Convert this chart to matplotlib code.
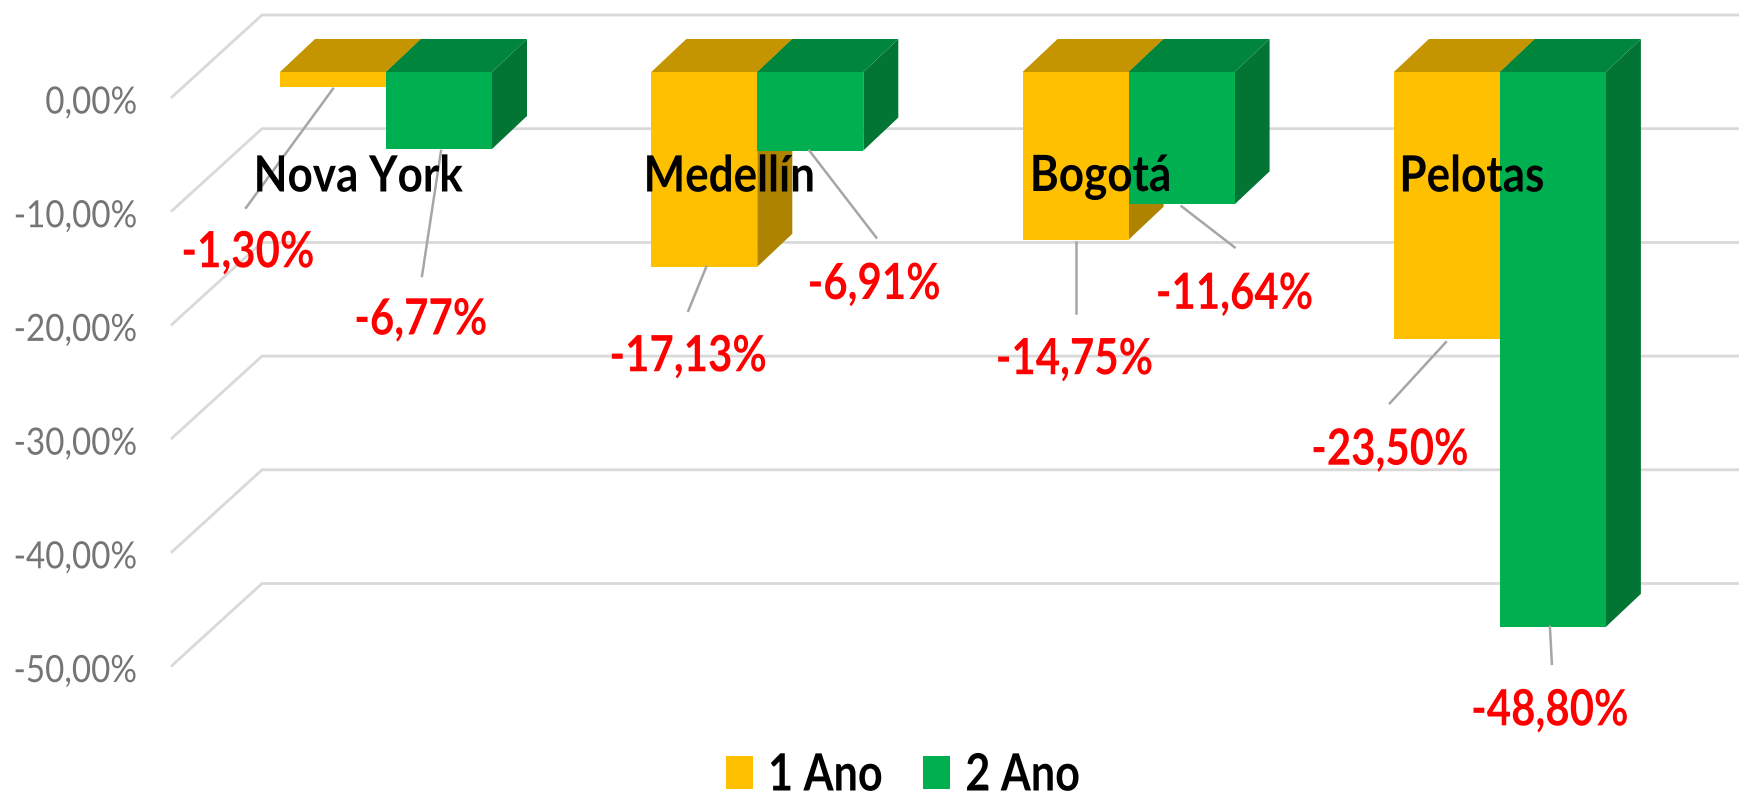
import matplotlib
matplotlib.use('Agg')
import matplotlib.pyplot as plt
from matplotlib.patches import Patch, Polygon
from matplotlib.patheffects import AbstractPathEffect
from matplotlib.transforms import Affine2D

plt.rcParams['font.family'] = ['Lato', 'DejaVu Sans']

cities = ['Nova York', 'Medellín', 'Bogotá', 'Pelotas']
ano_1 = [-1.30, -17.13, -14.75, -23.50]
ano_2 = [-6.77, -6.91, -11.64, -48.80]
grid_values = [0, -10, -20, -30, -40, -50]
tick_labels = ['0,00%', '-10,00%', '-20,00%', '-30,00%', '-40,00%', '-50,00%']

YELLOW = ('#FFC000', '#C49500', '#AD8300')
GREEN = ('#00B050', '#00853C', '#027434')

# pixel scale of the axes
PX_X = 371.3
PX_Y = 11.37


class Squeeze(AbstractPathEffect):
    """Narrower glyphs, since no Calibri-like condensed font is installed."""

    def __init__(self, sx, anchor=0.5, dy=0):
        super().__init__()
        self.sx = sx
        self.anchor = anchor
        self.dy = dy

    def draw_path(self, renderer, gc, tpath, affine, rgbFace=None):
        w = tpath.get_extents().x1
        squeeze = Affine2D().scale(self.sx, 1).translate(w * (1 - self.sx) * self.anchor, 0)
        renderer.draw_path(gc, tpath, squeeze + affine + Affine2D().translate(0, self.dy), rgbFace)


fig = plt.figure(figsize=(17.4, 7.97), dpi=100)
ax = fig.add_axes([172 / 1740, 0, 1568 / 1740, 1])
ax.set_xlim(-214 / PX_X, 1354 / PX_X)
ax.set_ylim(-700 / PX_Y, 97 / PX_Y)
for s in ax.spines.values():
    s.set_visible(False)
ax.patch.set_alpha(0)


def px(dx, dy):
    # pixel offset to data units, y down as in the image
    return dx / PX_X, -dy / PX_Y


# back wall and floor lines
back_x, back_y = px(90, -82)
for v in grid_values:
    x0 = ax.get_xlim()[0]
    ax.plot([x0, x0 + back_x, ax.get_xlim()[1]], [v, v + back_y, v + back_y],
            color='#D9D9D9', lw=2.0, zorder=1, clip_on=False, solid_joinstyle='miter')

ax.set_xticks([])
ax.set_yticks(grid_values, labels=tick_labels)
ax.tick_params(axis='y', length=0, pad=25, labelsize=27, labelcolor='#757575')
for t in ax.get_yticklabels():
    t.set_path_effects([Squeeze(0.885, anchor=1, dy=-2)])

bar_w = 106 / PX_X
front_y = px(0, -25)[1]
depth_dx, depth_dy = px(35, -33)


def bar_3d(left, val, cols, z):
    right = left + bar_w
    top = front_y
    bot = val + front_y
    ax.add_patch(Polygon([(right, top), (right + depth_dx, top + depth_dy),
                          (right + depth_dx, bot + depth_dy), (right, bot)],
                         fc=cols[2], ec='none', zorder=z))
    ax.add_patch(Polygon([(left, top), (left + depth_dx, top + depth_dy),
                          (right + depth_dx, top + depth_dy), (right, top)],
                         fc=cols[1], ec='none', zorder=z))
    ax.bar(left, val, bottom=top, width=bar_w, align='edge', color=cols[0], zorder=z)
    return left + bar_w / 2, bot


# leader start, leader end and label centre in pixels from the bar's bottom centre
leaders_1 = [((0, 2), (-87, 121), (-85, 166)), ((2, 0), (-16, 44), (-16, 90)),
             ((0, 2), (0, 73), (-1, 120)), ((-1, 3), (-57, 64), (-57, 111))]
leaders_2 = [((2, 2), (-17, 127), (-18, 171)), ((-1, 0), (66, 87), (64, 134)),
             ((0, 2), (53, 43), (53, 90)), ((-3, 0), (-1, 37), (-3, 84))]


def fmt(v):
    return f'{v:.2f}%'.replace('.', ',')


for i, city in enumerate(cities):
    for j, (vals, cols, lead) in enumerate(((ano_1, YELLOW, leaders_1), (ano_2, GREEN, leaders_2))):
        cx, by = bar_3d(i - bar_w + bar_w * j, vals[i], cols, 3 + j + i * 3)
        a, b, c = lead[i]
        ax.plot([cx + px(*a)[0], cx + px(*b)[0]], [by + px(*a)[1], by + px(*b)[1]],
                color='#A6A6A6', lw=1.8, zorder=30)
        ax.text(cx + px(*c)[0], by + px(*c)[1], fmt(vals[i]), color='#FF0000', fontsize=36,
                fontweight='bold', ha='center', va='center', zorder=32,
                path_effects=[Squeeze(0.84)])
    ax.text(i + px(-28, 0)[0], px(0, 80)[1], city, color='black', fontsize=36,
            fontweight='bold', ha='center', va='center', zorder=31,
            path_effects=[Squeeze(0.88)])

handles = [Patch(fc=YELLOW[0], label='1 Ano'), Patch(fc=GREEN[0], label='2 Ano')]
leg = fig.legend(handles=handles, loc='center', bbox_to_anchor=(914 / 1740, 1 - 776 / 797), ncol=2,
                 frameon=False, prop={'size': 37, 'weight': 'bold'}, handlelength=0.525, handleheight=0.62,
                 handletextpad=0.29, columnspacing=0.37, borderpad=0)
for t in leg.get_texts():
    t.set_path_effects([Squeeze(0.84, anchor=0)])

fig.savefig('out.png', dpi=100, facecolor='white')
